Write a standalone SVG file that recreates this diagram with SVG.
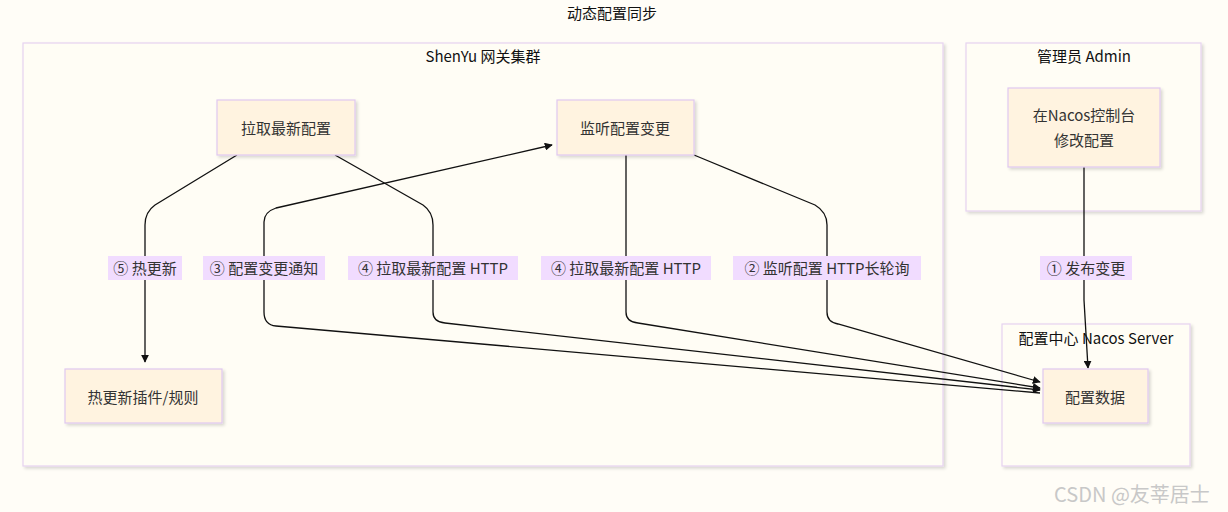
<svg xmlns="http://www.w3.org/2000/svg" width="1228" height="512" viewBox="0 0 1228 512">
<defs>
<marker id="ah" viewBox="0 0 10 10" refX="9" refY="5" markerWidth="8" markerHeight="8" markerUnits="userSpaceOnUse" orient="auto"><path d="M0,0L10,5L0,10z" fill="#111"/></marker>
<filter id="sh" x="-10%" y="-10%" width="130%" height="130%"><feDropShadow dx="2" dy="2" stdDeviation="1.5" flood-color="#000" flood-opacity="0.15"/></filter>
</defs>
<style>
text{font-family:"Noto Sans CJK SC","Liberation Sans",sans-serif;font-size:15px;fill:#333;text-anchor:middle;dominant-baseline:central}
.grp{fill:#fffdf5;stroke:#e6d3f0;stroke-width:1.2;filter:url(#sh)}
.node{fill:#fff3e0;stroke:#e0c8f0;stroke-width:1.2;filter:url(#sh)}
.edge{fill:none;stroke:#111;stroke-width:1.3;marker-end:url(#ah)}
.lbg{fill:#f1dcff}
.gt{fill:#111}
</style>
<rect width="1228" height="512" fill="#fffdf7"/>
<text x="612" y="12" class="gt">动态配置同步</text>
<g id="cluster-shenyu"><rect class="grp" x="23" y="43" width="920" height="423"/><text x="483" y="55" class="gt">ShenYu 网关集群</text></g>
<g id="cluster-admin"><rect class="grp" x="966" y="43" width="235" height="168"/><text x="1084" y="55" class="gt">管理员 Admin</text></g>
<g id="cluster-nacos"><rect class="grp" x="1002" y="324" width="188" height="142"/><text x="1096" y="337" class="gt">配置中心 Nacos Server</text></g>
<g id="connectors">
<path class="edge" d="M237,155 L155,205 Q145,212 145,225 L145,362"/>
<path class="edge" d="M335,155 L423,205 Q433,212 433,225 L433,312 Q433,322 445,323 L1040,390"/>
<path class="edge" d="M1040,393 L276,326 Q264,325 264,312 L264,222 Q264,212 276,208 L552,145"/>
<path class="edge" d="M626,155 L626,312 Q626,322 638,323 L1040,388"/>
<path class="edge" d="M694,155 L815,205 Q827,212 827,225 L827,312 Q827,322 838,324 L1040,382"/>
<path class="edge" d="M1084,167 L1084,300 L1088,368"/>
</g>
<g id="labels">
<rect class="lbg" x="108" y="256" width="74" height="24"/><text x="145" y="267">⑤ 热更新</text>
<rect class="lbg" x="203" y="256" width="122" height="24"/><text x="264" y="267">③ 配置变更通知</text>
<rect class="lbg" x="348" y="256" width="170" height="24"/><text x="433" y="267">④ 拉取最新配置 HTTP</text>
<rect class="lbg" x="541" y="256" width="170" height="24"/><text x="626" y="267">④ 拉取最新配置 HTTP</text>
<rect class="lbg" x="733" y="256" width="188" height="24"/><text x="827" y="267">② 监听配置 HTTP长轮询</text>
<rect class="lbg" x="1040" y="256" width="92" height="24"/><text x="1086" y="267">① 发布变更</text>
</g>
<g id="n-pull"><rect class="node" x="217" y="100" width="138" height="55"/><text x="286" y="127">拉取最新配置</text></g>
<g id="n-listen"><rect class="node" x="557" y="100" width="137" height="55"/><text x="625" y="127">监听配置变更</text></g>
<g id="n-hot"><rect class="node" x="65" y="369" width="157" height="54"/><text x="143" y="396">热更新插件/规则</text></g>
<g id="n-data"><rect class="node" x="1043" y="369" width="105" height="54"/><text x="1095" y="396">配置数据</text></g>
<g id="n-admin"><rect class="node" x="1008" y="88" width="152" height="79"/><text x="1084" y="114">在Nacos控制台</text><text x="1084" y="139">修改配置</text></g>
<text x="1132" y="493" style="font-size:20px;fill:#c8c8c8">CSDN @友莘居士</text>
</svg>
